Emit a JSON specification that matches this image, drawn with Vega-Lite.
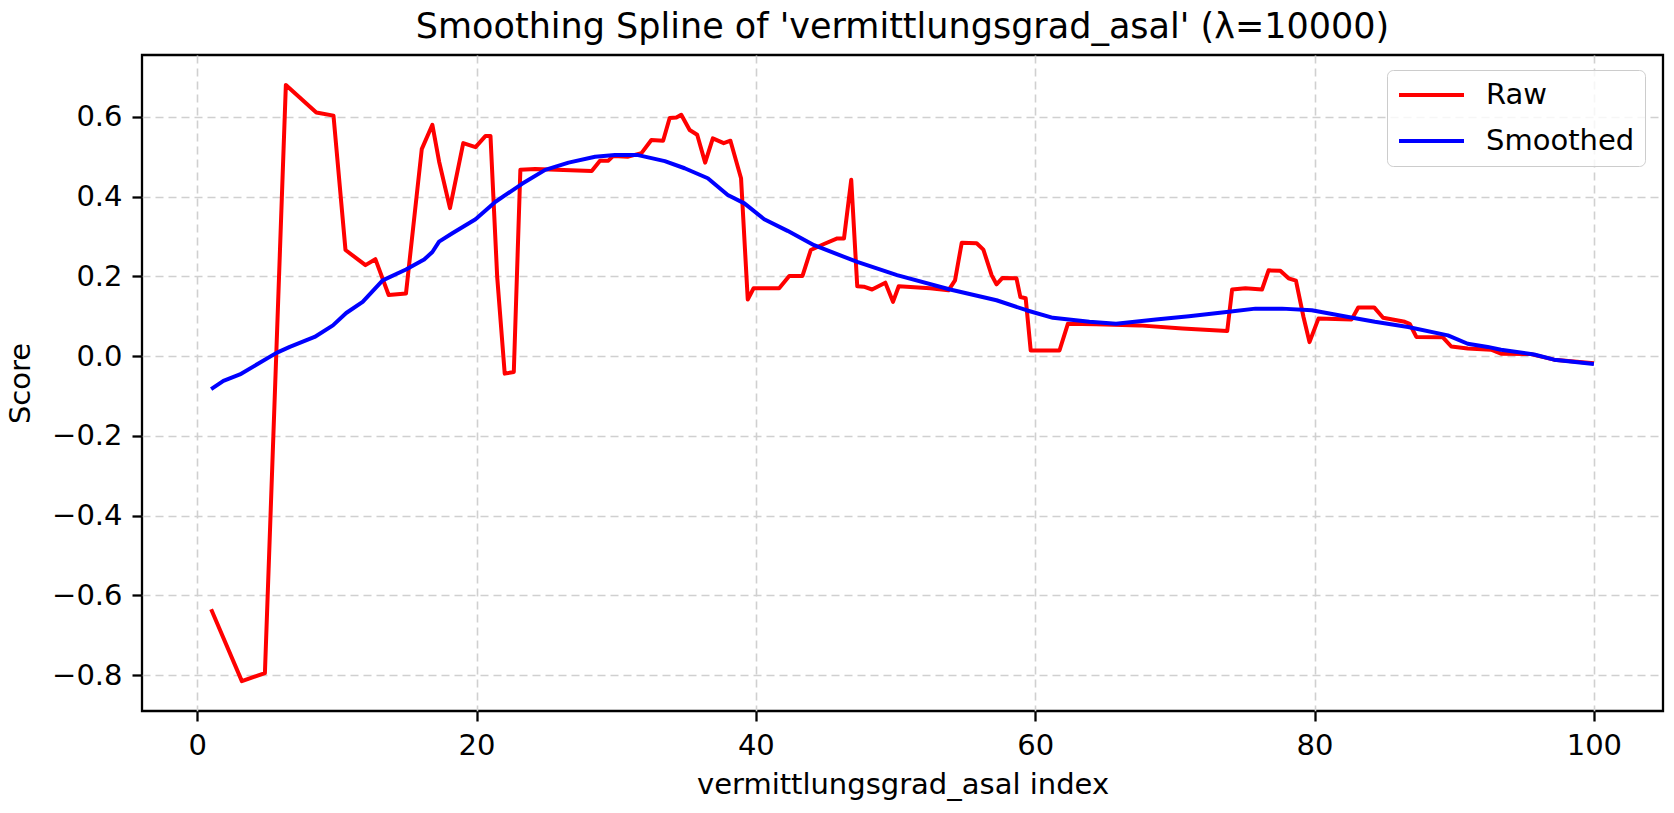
{
  "$schema": "https://vega.github.io/schema/vega-lite/v6.json",
  "autosize": {"type": "none"},
  "width": 1521,
  "height": 656,
  "padding": {"left": 142, "top": 55, "right": 11, "bottom": 102},
  "background": "#ffffff",
  "title": {
    "text": "Smoothing Spline of 'vermittlungsgrad_asal' (λ=10000)",
    "font": "DejaVu Sans",
    "fontSize": 35,
    "fontWeight": "normal",
    "color": "#000000",
    "anchor": "middle",
    "offset": 10
  },
  "data": {
    "values": [
      {"series": "Raw", "idx": 1, "score": -0.635},
      {"series": "Raw", "idx": 3.2, "score": -0.815},
      {"series": "Raw", "idx": 4.85, "score": -0.795},
      {"series": "Raw", "idx": 6.35, "score": 0.68},
      {"series": "Raw", "idx": 8.53, "score": 0.611},
      {"series": "Raw", "idx": 9.76, "score": 0.603},
      {"series": "Raw", "idx": 10.62, "score": 0.266},
      {"series": "Raw", "idx": 12.05, "score": 0.228},
      {"series": "Raw", "idx": 12.76, "score": 0.243},
      {"series": "Raw", "idx": 13.71, "score": 0.153},
      {"series": "Raw", "idx": 14.95, "score": 0.157},
      {"series": "Raw", "idx": 16.08, "score": 0.519},
      {"series": "Raw", "idx": 16.84, "score": 0.58},
      {"series": "Raw", "idx": 17.32, "score": 0.488},
      {"series": "Raw", "idx": 18.1, "score": 0.371},
      {"series": "Raw", "idx": 19.05, "score": 0.534},
      {"series": "Raw", "idx": 19.93, "score": 0.524},
      {"series": "Raw", "idx": 20.65, "score": 0.552},
      {"series": "Raw", "idx": 21.0, "score": 0.552},
      {"series": "Raw", "idx": 21.48, "score": 0.199},
      {"series": "Raw", "idx": 22.02, "score": -0.044},
      {"series": "Raw", "idx": 22.67, "score": -0.04},
      {"series": "Raw", "idx": 23.14, "score": 0.467},
      {"series": "Raw", "idx": 24.21, "score": 0.469},
      {"series": "Raw", "idx": 28.25, "score": 0.464},
      {"series": "Raw", "idx": 28.84, "score": 0.49},
      {"series": "Raw", "idx": 29.44, "score": 0.49},
      {"series": "Raw", "idx": 29.79, "score": 0.502},
      {"series": "Raw", "idx": 30.86, "score": 0.5},
      {"series": "Raw", "idx": 31.81, "score": 0.509},
      {"series": "Raw", "idx": 32.52, "score": 0.542},
      {"series": "Raw", "idx": 33.36, "score": 0.54},
      {"series": "Raw", "idx": 33.83, "score": 0.597},
      {"series": "Raw", "idx": 34.31, "score": 0.598},
      {"series": "Raw", "idx": 34.66, "score": 0.605},
      {"series": "Raw", "idx": 35.26, "score": 0.567},
      {"series": "Raw", "idx": 35.8, "score": 0.555},
      {"series": "Raw", "idx": 36.37, "score": 0.485},
      {"series": "Raw", "idx": 36.92, "score": 0.546},
      {"series": "Raw", "idx": 37.7, "score": 0.534},
      {"series": "Raw", "idx": 38.18, "score": 0.54},
      {"series": "Raw", "idx": 38.94, "score": 0.446},
      {"series": "Raw", "idx": 39.42, "score": 0.142},
      {"series": "Raw", "idx": 39.84, "score": 0.17},
      {"series": "Raw", "idx": 41.67, "score": 0.17},
      {"series": "Raw", "idx": 42.39, "score": 0.201},
      {"series": "Raw", "idx": 43.34, "score": 0.201},
      {"series": "Raw", "idx": 43.93, "score": 0.266},
      {"series": "Raw", "idx": 44.88, "score": 0.281},
      {"series": "Raw", "idx": 45.83, "score": 0.295},
      {"series": "Raw", "idx": 46.31, "score": 0.295},
      {"series": "Raw", "idx": 46.83, "score": 0.442},
      {"series": "Raw", "idx": 47.26, "score": 0.175},
      {"series": "Raw", "idx": 47.73, "score": 0.174},
      {"series": "Raw", "idx": 48.32, "score": 0.167},
      {"series": "Raw", "idx": 49.27, "score": 0.184},
      {"series": "Raw", "idx": 49.82, "score": 0.136},
      {"series": "Raw", "idx": 50.23, "score": 0.175},
      {"series": "Raw", "idx": 52.48, "score": 0.17},
      {"series": "Raw", "idx": 53.79, "score": 0.165},
      {"series": "Raw", "idx": 54.26, "score": 0.19},
      {"series": "Raw", "idx": 54.74, "score": 0.284},
      {"series": "Raw", "idx": 55.81, "score": 0.283},
      {"series": "Raw", "idx": 56.29, "score": 0.267},
      {"series": "Raw", "idx": 56.88, "score": 0.203},
      {"series": "Raw", "idx": 57.23, "score": 0.18},
      {"series": "Raw", "idx": 57.66, "score": 0.196},
      {"series": "Raw", "idx": 58.66, "score": 0.195},
      {"series": "Raw", "idx": 58.94, "score": 0.148},
      {"series": "Raw", "idx": 59.32, "score": 0.145},
      {"series": "Raw", "idx": 59.68, "score": 0.014},
      {"series": "Raw", "idx": 61.74, "score": 0.014},
      {"series": "Raw", "idx": 62.34, "score": 0.081},
      {"series": "Raw", "idx": 64.36, "score": 0.08},
      {"series": "Raw", "idx": 67.45, "score": 0.077},
      {"series": "Raw", "idx": 70.54, "score": 0.069},
      {"series": "Raw", "idx": 73.75, "score": 0.063},
      {"series": "Raw", "idx": 74.1, "score": 0.167},
      {"series": "Raw", "idx": 75.05, "score": 0.17},
      {"series": "Raw", "idx": 76.24, "score": 0.167},
      {"series": "Raw", "idx": 76.71, "score": 0.215},
      {"series": "Raw", "idx": 77.55, "score": 0.214},
      {"series": "Raw", "idx": 78.14, "score": 0.195},
      {"series": "Raw", "idx": 78.67, "score": 0.189},
      {"series": "Raw", "idx": 79.21, "score": 0.098},
      {"series": "Raw", "idx": 79.64, "score": 0.035},
      {"series": "Raw", "idx": 80.28, "score": 0.094},
      {"series": "Raw", "idx": 82.66, "score": 0.092},
      {"series": "Raw", "idx": 83.13, "score": 0.122},
      {"series": "Raw", "idx": 84.27, "score": 0.122},
      {"series": "Raw", "idx": 84.91, "score": 0.096},
      {"series": "Raw", "idx": 86.46, "score": 0.086},
      {"series": "Raw", "idx": 86.81, "score": 0.081},
      {"series": "Raw", "idx": 87.29, "score": 0.048},
      {"series": "Raw", "idx": 89.19, "score": 0.047},
      {"series": "Raw", "idx": 89.79, "score": 0.024},
      {"series": "Raw", "idx": 90.97, "score": 0.019},
      {"series": "Raw", "idx": 92.64, "score": 0.016},
      {"series": "Raw", "idx": 93.35, "score": 0.006},
      {"series": "Raw", "idx": 95.49, "score": 0.005},
      {"series": "Raw", "idx": 97.15, "score": -0.009},
      {"series": "Raw", "idx": 100, "score": -0.018},
      {"series": "Smoothed", "idx": 1, "score": -0.083},
      {"series": "Smoothed", "idx": 1.88, "score": -0.062},
      {"series": "Smoothed", "idx": 3.06, "score": -0.046},
      {"series": "Smoothed", "idx": 5.68, "score": 0.008},
      {"series": "Smoothed", "idx": 6.63, "score": 0.023},
      {"series": "Smoothed", "idx": 8.41, "score": 0.048},
      {"series": "Smoothed", "idx": 9.72, "score": 0.077},
      {"series": "Smoothed", "idx": 10.67, "score": 0.108},
      {"series": "Smoothed", "idx": 11.85, "score": 0.136},
      {"series": "Smoothed", "idx": 13.28, "score": 0.19},
      {"series": "Smoothed", "idx": 14.95, "score": 0.217},
      {"series": "Smoothed", "idx": 16.25, "score": 0.242},
      {"series": "Smoothed", "idx": 16.84, "score": 0.261},
      {"series": "Smoothed", "idx": 17.32, "score": 0.287},
      {"series": "Smoothed", "idx": 18.27, "score": 0.308},
      {"series": "Smoothed", "idx": 19.93, "score": 0.343},
      {"series": "Smoothed", "idx": 21.36, "score": 0.387},
      {"series": "Smoothed", "idx": 23.26, "score": 0.432},
      {"series": "Smoothed", "idx": 24.92, "score": 0.467},
      {"series": "Smoothed", "idx": 26.59, "score": 0.485},
      {"series": "Smoothed", "idx": 28.49, "score": 0.5},
      {"series": "Smoothed", "idx": 29.91, "score": 0.504},
      {"series": "Smoothed", "idx": 31.57, "score": 0.504},
      {"series": "Smoothed", "idx": 33.48, "score": 0.489},
      {"series": "Smoothed", "idx": 34.9, "score": 0.471},
      {"series": "Smoothed", "idx": 36.56, "score": 0.446},
      {"series": "Smoothed", "idx": 37.99, "score": 0.404},
      {"series": "Smoothed", "idx": 39.18, "score": 0.383},
      {"series": "Smoothed", "idx": 40.6, "score": 0.343},
      {"series": "Smoothed", "idx": 42.27, "score": 0.314},
      {"series": "Smoothed", "idx": 44.17, "score": 0.278},
      {"series": "Smoothed", "idx": 47.26, "score": 0.236},
      {"series": "Smoothed", "idx": 50.11, "score": 0.203},
      {"series": "Smoothed", "idx": 53.91, "score": 0.167},
      {"series": "Smoothed", "idx": 57.23, "score": 0.14},
      {"series": "Smoothed", "idx": 59.37, "score": 0.115},
      {"series": "Smoothed", "idx": 61.27, "score": 0.096},
      {"series": "Smoothed", "idx": 63.88, "score": 0.086},
      {"series": "Smoothed", "idx": 65.79, "score": 0.081},
      {"series": "Smoothed", "idx": 68.64, "score": 0.092},
      {"series": "Smoothed", "idx": 71.01, "score": 0.1},
      {"series": "Smoothed", "idx": 73.86, "score": 0.111},
      {"series": "Smoothed", "idx": 75.77, "score": 0.119},
      {"series": "Smoothed", "idx": 77.67, "score": 0.119},
      {"series": "Smoothed", "idx": 79.8, "score": 0.115},
      {"series": "Smoothed", "idx": 82.42, "score": 0.098},
      {"series": "Smoothed", "idx": 84.32, "score": 0.086},
      {"series": "Smoothed", "idx": 86.7, "score": 0.073},
      {"series": "Smoothed", "idx": 89.55, "score": 0.052},
      {"series": "Smoothed", "idx": 90.97, "score": 0.031},
      {"series": "Smoothed", "idx": 92.4, "score": 0.023},
      {"series": "Smoothed", "idx": 93.35, "score": 0.016},
      {"series": "Smoothed", "idx": 95.72, "score": 0.004},
      {"series": "Smoothed", "idx": 97.15, "score": -0.009},
      {"series": "Smoothed", "idx": 100, "score": -0.02}
    ]
  },
  "mark": {"type": "line", "strokeWidth": 4, "strokeJoin": "round", "clip": true},
  "encoding": {
    "x": {
      "field": "idx",
      "type": "quantitative",
      "title": "vermittlungsgrad_asal index",
      "scale": {"domain": [-3.95, 104.95], "nice": false, "zero": false},
      "axis": {"values": [0, 20, 40, 60, 80, 100], "format": "d", "titlePadding": 10}
    },
    "y": {
      "field": "score",
      "type": "quantitative",
      "title": "Score",
      "scale": {"domain": [-0.89, 0.755], "nice": false, "zero": false},
      "axis": {"values": [-0.8, -0.6, -0.4, -0.2, 0, 0.2, 0.4, 0.6], "format": ".1f", "titlePadding": 16}
    },
    "color": {
      "field": "series",
      "type": "nominal",
      "scale": {"domain": ["Raw", "Smoothed"], "range": ["#ff0000", "#0000ff"]},
      "legend": {
        "title": null,
        "orient": "none",
        "legendX": 1245,
        "legendY": 15,
        "symbolType": "stroke",
        "symbolSize": 4225,
        "symbolStrokeWidth": 4,
        "clipHeight": 30,
        "labelFontSize": 29,
        "labelFont": "DejaVu Sans",
        "labelColor": "#000000",
        "labelOffset": 20,
        "labelExpr": "datum.label + '    '",
        "padding": 10,
        "rowPadding": 16,
        "strokeColor": "#cccccc",
        "fillColor": "rgba(255,255,255,0.8)",
        "cornerRadius": 6
      }
    }
  },
  "config": {
    "font": "DejaVu Sans",
    "view": {"stroke": "#000000", "strokeWidth": 2.3},
    "axis": {
      "domain": false,
      "grid": true,
      "gridColor": "#d0d0d0",
      "gridWidth": 1.6,
      "gridDash": [8, 5],
      "ticks": true,
      "tickColor": "#000000",
      "tickSize": 10,
      "tickWidth": 2.3,
      "labelPadding": 10,
      "labelFont": "DejaVu Sans",
      "labelFontSize": 29,
      "labelColor": "#000000",
      "titleFont": "DejaVu Sans",
      "titleFontSize": 29,
      "titleFontWeight": "normal",
      "titleColor": "#000000"
    }
  }
}
